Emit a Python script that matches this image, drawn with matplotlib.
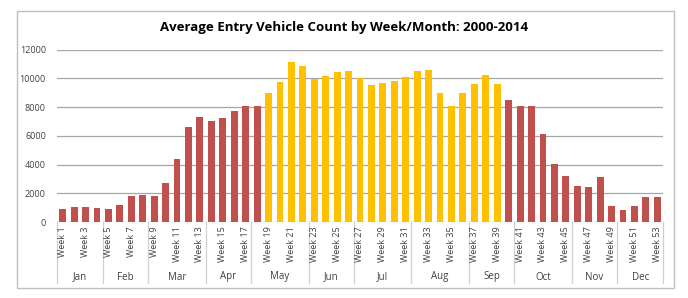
import matplotlib
matplotlib.use("Agg")
import matplotlib.pyplot as plt
import matplotlib.patches as mpatches
import matplotlib.transforms as mtransforms
import numpy as np

# ── Data ──────────────────────────────────────────────────────────────────────
weeks = [f"Week {i}" for i in range(1, 54)]
counts = [880, 1020, 1060, 1000, 900, 1160, 1780, 1900, 1830, 2720,
          4400, 6640, 7330, 7010, 7220, 7750, 8050, 8050, 9000, 9750,
          11110, 10860, 9960, 10160, 10460, 10490, 10000, 9560, 9650, 9840,
          10090, 10530, 10560, 8980, 8080, 8980, 9630, 10210, 9580, 8470,
          8100, 8100, 6150, 4040, 3180, 2480, 2460, 3160, 1090, 860,
          1110, 1740, 1720]
months = ["Jan", "Feb", "Mar", "Apr", "May", "Jun",
          "Jul", "Aug", "Sep", "Oct", "Nov", "Dec"]
weeks_per_month = [4, 4, 5, 4, 5, 4, 5, 5, 4, 5, 4, 4]
summer_weeks = range(19, 40)   # highlighted weeks (yellow)

# ── Style ─────────────────────────────────────────────────────────────────────
RED = "#C0504D"
GOLD = "#FFC000"
GRID = "#A6A6A6"
TEXT = "#404040"
plt.rcParams["font.family"] = ["Open Sans", "DejaVu Sans"]

W, H = 688, 298
fig = plt.figure(figsize=(W / 100, H / 100), dpi=100)
fig.patch.set_facecolor("white")

# outer chart border
fig.patches.append(mpatches.Rectangle((17 / W, 1 - 288 / H), (674 - 17) / W,
                                      (288 - 11) / H, transform=fig.transFigure,
                                      fill=False, edgecolor="#BFBFBF", lw=1.0))

ax = fig.add_axes([57 / W, 1 - 222 / H, (663 - 57) / W, (222 - 49.7) / H])

x = np.arange(len(weeks))
colors = [GOLD if (i + 1) in summer_weeks else RED for i in x]
ax.bar(x, counts, width=0.6, color=colors, zorder=3)

ax.set_xlim(-0.5, len(weeks) - 0.5)
ax.set_ylim(0, 12000)
ax.set_yticks(np.arange(0, 12001, 2000))
ax.tick_params(axis="y", length=0, labelsize=6.5, labelcolor=TEXT, pad=8)
ax.yaxis.grid(True, color=GRID, lw=0.9, zorder=0)
ax.set_axisbelow(True)
ax.set_xticks([])
for s in ax.spines.values():
    s.set_visible(False)

# week labels (every other week)
for i in x[::2]:
    ax.text(i, -0.025, weeks[i], rotation=90, ha="center", va="top",
            fontsize=6.5, color=TEXT, transform=ax.get_xaxis_transform())

# month labels and separators
trans = mtransforms.blended_transform_factory(ax.transData, ax.transAxes)
bottom = -(283 - 222) / (222 - 49.7)
start = 0
ax.plot([-0.5, -0.5], [0, bottom], color="#D0D0D0", lw=0.9,
        transform=trans, clip_on=False)
for m, n in zip(months, weeks_per_month):
    end = start + n
    ax.plot([end - 0.5, end - 0.5], [0, bottom], color="#D0D0D0", lw=0.9,
            transform=trans, clip_on=False)
    ax.text((start + end - 1) / 2, -(277 - 222) / (222 - 49.7), m,
            ha="center", va="center", fontsize=7, color=TEXT, transform=trans)
    start = end

fig.text(0.5, 1 - 27 / H, "Average Entry Vehicle Count by Week/Month: 2000-2014",
         ha="center", va="center", fontsize=9.5, fontweight="bold",
         color="black")

fig.savefig("out.png", dpi=100, facecolor="white")
